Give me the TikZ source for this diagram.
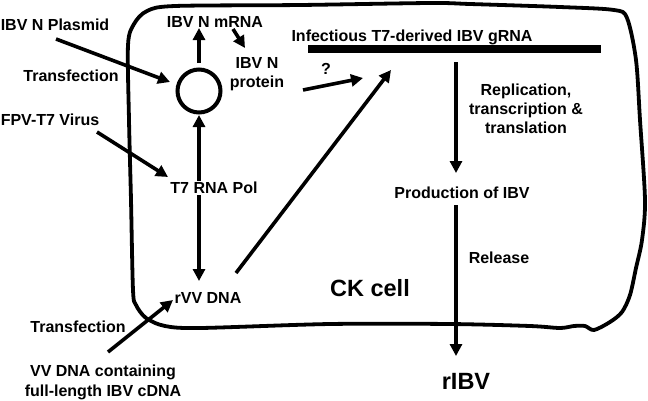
\documentclass[tikz,border=0pt]{standalone}
\usepackage{fontspec}
\setmainfont{Liberation Sans}
\usetikzlibrary{arrows.meta}
\begin{document}
\begin{tikzpicture}[x=1pt,y=-1pt,
  lbl/.style={font=\bfseries\fontsize{16}{19}\selectfont,inner sep=0pt,align=center},
  arr/.style={line width=3.6pt,-{Triangle[length=12pt,width=12pt]}},
  darr/.style={line width=3.6pt,{Triangle[length=12pt,width=12pt]}-{Triangle[length=12pt,width=12pt]}}]
\useasboundingbox (0,0) rectangle (648,400);
% cell outline
\draw[line width=3.8pt,line join=round] plot[smooth cycle,tension=0.5] coordinates{
 (133,290) (131,200) (129,120) (128,45) (134,24) (147,11) (175,6) (300,5) (430,3) (470,4) (560,7)
 (614,10) (627,18) (636,60) (640,120) (645,200) (642,240) (636,268) (630,295) (622,312) (610,322)
 (594,330) (585,326) (574,326) (560,328) (530,326) (450,324) (330,324) (200,328) (165,326)
 (146,318) (136,305)};
% nodes
\node[lbl] (plasmid) at (55,25) {IBV N Plasmid};
\node[lbl] (transf1) at (71,76) {Transfection};
\node[lbl] (fpv) at (50,120) {FPV-T7 Virus};
\node[lbl] (mrna) at (215,22) {IBV N mRNA};
\node[lbl] (protein) at (257,74) {IBV N\\protein};
\node[draw,circle,line width=4pt,minimum size=43pt,inner sep=0pt] (circ) at (199,91) {};
\node[lbl] (grna) at (412,37) {Infectious T7-derived IBV gRNA};
\node[lbl] (q) at (326,69) {?};
\node[lbl] (repl) at (526,109) {Replication,\\transcription \&\\translation};
\node[lbl] (prod) at (462,193) {Production of IBV};
\node[lbl] (release) at (499,258) {Release};
\node[lbl,font=\bfseries\fontsize{23.5}{26}\selectfont] (ck) at (370,288) {CK cell};
\node[lbl,font=\bfseries\fontsize{23.5}{26}\selectfont] (ribv) at (466,381) {rIBV};
\node[lbl] (transf2) at (78,327) {Transfection};
\node[lbl,font=\bfseries\fontsize{16}{20}\selectfont] (vvdna) at (103,382) {VV DNA containing\\full-length IBV cDNA};
\node[lbl] (rvv) at (208,298) {rVV DNA};
% coordinates
\coordinate (p1) at (56,39);   \coordinate (p2) at (170,82);
\coordinate (m1) at (233,29);  \coordinate (m2) at (245,48);
\coordinate (c1) at (199,63);  \coordinate (c2) at (199,28);
\coordinate (f1) at (97,132);  \coordinate (f2) at (168,177);
\coordinate (d1) at (199,115); \coordinate (d2) at (199,281);
\coordinate (r1) at (236,273); \coordinate (r2) at (391,70);
\coordinate (q1) at (303,90);  \coordinate (q2) at (363,78);
\coordinate (b1) at (308,49);  \coordinate (b2) at (601,49);
\coordinate (g1) at (456,62);  \coordinate (g2) at (456,173);
\coordinate (l1) at (456,205); \coordinate (l2) at (456,356);
\coordinate (v1) at (108,352); \coordinate (v2) at (173,300);
% connectors
\draw[arr] (p1) -- (p2);
\draw[arr] (m1) -- (m2);
\draw[arr] (c1) -- (c2);
\draw[arr] (f1) -- (f2);
\draw[darr] (d1) -- (d2);
\node[lbl,fill=white,inner sep=1pt] (t7) at (214,188) {T7 RNA Pol};
\draw[arr] (r1) -- (r2);
\draw[arr] (q1) -- (q2);
\draw[line width=8pt] (b1) -- (b2);
\draw[arr] (g1) -- (g2);
\draw[arr] (l1) -- (l2);
\draw[arr] (v1) -- (v2);
\end{tikzpicture}
\end{document}
